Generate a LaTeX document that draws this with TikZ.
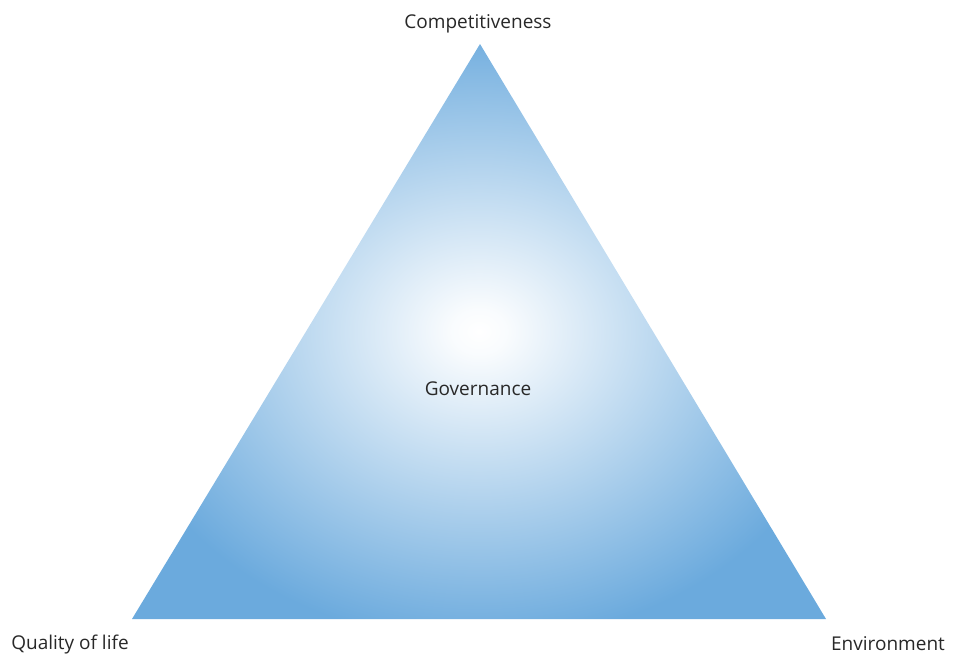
\documentclass[tikz,border=0pt]{standalone}
\usepackage{fontspec}
\setmainfont{Open Sans}
\definecolor{triblue}{RGB}{107,170,221}
\definecolor{labelgray}{RGB}{40,40,40}
\pgfdeclareradialshading{govshade}{\pgfpoint{0bp}{0bp}}{%
  color(0bp)=(white);
  color(2bp)=(white!96!triblue);
  color(27bp)=(triblue);
  color(50bp)=(triblue)}
\begin{document}
\begin{tikzpicture}[x=1pt,y=-1pt,
  lbl/.style={text=labelgray,font=\fontsize{19}{22}\selectfont,inner sep=0pt}]
\useasboundingbox (0,0) rectangle (965,654);
\coordinate (top) at (480,44);
\coordinate (bl) at (132,619);
\coordinate (br) at (826,619);
\shade[shading=govshade] (top) -- (br) -- (bl) -- cycle;
\node[lbl] (comp) at (478,24) {Competitiveness};
\node[lbl] (gov) at (478,389) {Governance};
\node[lbl] (qol) at (70,644) {Quality of life};
\node[lbl] (env) at (888,644) {Environment};
\end{tikzpicture}
\end{document}
